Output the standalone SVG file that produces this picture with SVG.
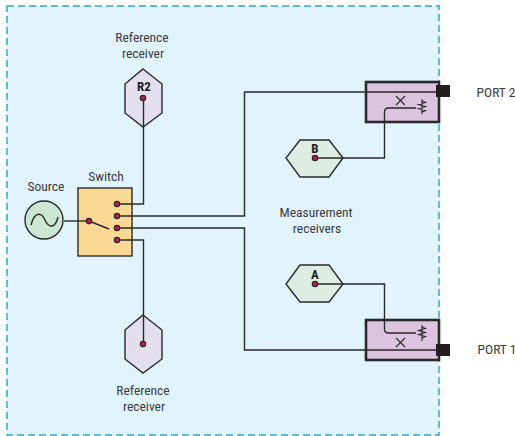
<svg xmlns="http://www.w3.org/2000/svg" width="515" height="436" viewBox="0 0 515 436">
<style>
text{font-family:"Roboto Condensed","Liberation Sans Narrow","Liberation Sans",sans-serif;font-size:13.5px;fill:#3c3c3c;text-anchor:middle}
.b{font-weight:bold;fill:#222;font-size:13px}
.w{fill:none;stroke:#2a2a2a;stroke-width:1.4}
.hex{stroke:#2a2a2a;stroke-width:1.4}
.box{fill:#dcc3df;stroke:#2a2a2a;stroke-width:2.6}
.d{fill:#c2185b;stroke:#2a2a2a;stroke-width:1.2}
.s{fill:none;stroke:#2a2a2a;stroke-width:1.1}
</style>
<path d="M7 6H439V435H7Z" fill="#e1f3fd"/>
<path d="M7 6H439V435H7Z" fill="none" stroke="#2fa8d0" stroke-width="1.5" stroke-dasharray="7 4"/>
<g id="port2">
<rect class="box" x="366" y="82" width="73" height="40"/>
<path class="s" d="M396 96L405 105M405 96L396 105M422 99V114M422 101l3.500 1.500-7 2 7 2-7 2 7 2-3.500 1.500"/>
<text x="496" y="97">PORT 2</text>
</g>
<g id="port1">
<rect class="box" x="366" y="320" width="73" height="40"/>
<path class="s" d="M396 338L405 347M405 338L396 347M422 325V341M422 327l3.500 1.500-7 2 7 2-7 2 7 2-3.500 1.500"/>
<text x="497" y="354">PORT 1</text>
</g>
<g id="source">
<circle cx="44" cy="220" r="19" fill="#cbe6d2" stroke="#2a2a2a" stroke-width="1.4"/>
<path d="M31 225C35 210 42 213 45 220S55 230 58 217" fill="none" stroke="#2a2a2a" stroke-width="1.4"/>
<text x="46" y="191">Source</text>
</g>
<g id="switch">
<rect x="78" y="188" width="54" height="68" fill="#fbd994" stroke="#2a2a2a" stroke-width="1.4"/>
<circle class="d" cx="89" cy="221" r="2.7"/>
<circle class="d" cx="117" cy="204" r="2.7"/>
<circle class="d" cx="117" cy="216" r="2.7"/>
<circle class="d" cx="117" cy="228" r="2.7"/>
<circle class="d" cx="117" cy="240" r="2.7"/>
<text x="106" y="181">Switch</text>
</g>
<g id="r2">
<path class="hex" d="M143 69L162 84V113L143 127L125 113V84Z" fill="#e3dfef"/>
<circle class="d" cx="143" cy="98" r="2.7"/>
<text class="b" x="144" y="91">R2</text>
<text x="142" y="42">Reference</text>
<text x="143" y="58">receiver</text>
</g>
<g id="r1">
<path class="hex" d="M143 315L162 330V359L143 373L125 359V330Z" fill="#e3dfef"/>
<circle class="d" cx="143" cy="344" r="2.7"/>
<text x="143" y="395">Reference</text>
<text x="144" y="411">receiver</text>
</g>
<g id="b">
<path class="hex" d="M300 140H329L343 158L329 177H300L286 158Z" fill="#deede2"/>
<circle class="d" cx="315" cy="158" r="2.7"/>
<text class="b" x="315" y="153">B</text>
</g>
<g id="a">
<path class="hex" d="M300 265H329L343 284L329 302H300L286 284Z" fill="#deede2"/>
<circle class="d" cx="315" cy="284" r="2.7"/>
<text class="b" x="315" y="279">A</text>
</g>
<g id="connectors">
<path class="w" d="M143.500 100.700V204H119.700"/>
<path class="w" d="M119.700 216H244.500V92H437"/>
<path class="w" d="M119.700 228H244.500V350H437"/>
<path class="w" d="M119.700 240H143.500V341.300"/>
<path class="w" d="M317.700 158H384.500V112Q384.500 108 388.500 108H416"/>
<path class="w" d="M317.700 284H384.500V329Q384.500 333 388.500 333H416"/>
<path class="w" d="M64 221H86.300"/>
<path class="w" d="M91.500 222L109 229"/>
</g>
<g id="terminals">
<rect x="436" y="85" width="14" height="12" fill="#231f20"/>
<rect x="436" y="344" width="14" height="12" fill="#231f20"/>
</g>
<g id="labels">
<text x="316" y="217">Measurement</text>
<text x="317" y="233">receivers</text>
</g>
</svg>
